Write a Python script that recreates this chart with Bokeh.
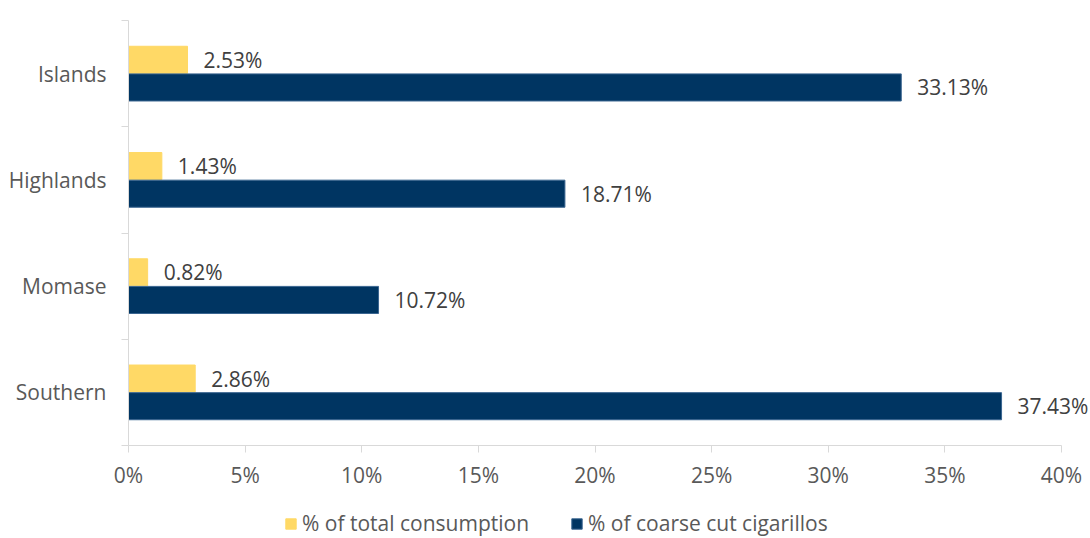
from bokeh.plotting import figure
from bokeh.models import FixedTicker, Range1d, ColumnDataSource, Legend, LegendItem
from bokeh.transform import dodge
from bokeh.core.properties import value
from bokeh.embed import file_html
from bokeh.resources import INLINE

categories = ["Southern", "Momase", "Highlands", "Islands"]
total_consumption = [2.86, 0.82, 1.43, 2.53]
coarse_cut = [37.43, 10.72, 18.71, 33.13]
series_names = ["% of total consumption", "% of coarse cut cigarillos"]
x_ticks = [0, 5, 10, 15, 20, 25, 30, 35, 40]
x_tick_labels = [f"{t}%" for t in x_ticks]

FONT = "Open Sans"
FS = "21px"
YELLOW = "#FFD966"
NAVY = "#003562"
AXIS_GREY = "#D9D9D9"
LABEL_GREY = "#595959"
DATA_GREY = "#404040"

centers = [i + 0.5 for i in range(len(categories))]
source = ColumnDataSource(dict(
    y=centers,
    total=total_consumption,
    coarse=coarse_cut,
    total_lbl=[f"{v:.2f}%" for v in total_consumption],
    coarse_lbl=[f"{v:.2f}%" for v in coarse_cut],
))

# plot area: 0..40% over 933px starting 128px from the left, categories over 425px
# starting 20px from the top; the frame covers the whole canvas so that no text is clipped
W, H = 1090, 538
left_px, axis_px = 128, 933
top_px, cat_px = 20, 425
xmax = x_ticks[-1]
ncat = len(categories)
x_lo = -xmax * left_px / axis_px
x_hi = xmax * (W - left_px) / axis_px
y_hi = ncat * (cat_px + top_px) / cat_px
y_lo = -ncat * (H - top_px - cat_px) / cat_px

p = figure(frame_width=W, frame_height=H, min_border=0,
           x_range=Range1d(x_lo, x_hi), y_range=Range1d(y_lo, y_hi),
           output_backend="svg", toolbar_location=None)
p.outline_line_color = None
p.xgrid.visible = False
p.ygrid.visible = False

bar_h = 0.255
off = 0.13
r1 = p.hbar(y=dodge("y", off, range=p.y_range), left=0, right="total", height=bar_h,
            source=source, fill_color=YELLOW, line_color=YELLOW)
r2 = p.hbar(y=dodge("y", -off, range=p.y_range), left=0, right="coarse", height=bar_h,
            source=source, fill_color=NAVY, line_color="#3A6590", line_width=1)

p.text(x="total", y=dodge("y", off, range=p.y_range), text="total_lbl", source=source,
       x_offset=16, text_baseline="middle", text_align="left",
       text_font=value(FONT), text_font_size=FS, text_color=DATA_GREY)
p.text(x="coarse", y=dodge("y", -off, range=p.y_range), text="coarse_lbl", source=source,
       x_offset=16, text_baseline="middle", text_align="left",
       text_font=value(FONT), text_font_size=FS, text_color=DATA_GREY)

# x axis, drawn at y = 0 inside the frame
xa = p.xaxis[0]
xa.fixed_location = 0
xa.ticker = FixedTicker(ticks=x_ticks, minor_ticks=[])
xa.bounds = (x_ticks[0], x_ticks[-1])
xa.major_label_overrides = {t: l for t, l in zip(x_ticks, x_tick_labels)}
xa.axis_line_color = AXIS_GREY
xa.major_tick_line_color = AXIS_GREY
xa.major_tick_out = 7
xa.major_tick_in = 0
xa.minor_tick_line_color = None
xa.major_label_standoff = 8
xa.major_label_text_font = FONT
xa.major_label_text_font_size = FS
xa.major_label_text_color = LABEL_GREY

# y axis, drawn at x = 0 inside the frame
ya = p.yaxis[0]
ya.fixed_location = 0
ya.ticker = FixedTicker(ticks=centers, minor_ticks=list(range(ncat + 1)))
ya.bounds = (0, ncat)
ya.major_label_overrides = {c: n for c, n in zip(centers, categories)}
ya.axis_line_color = AXIS_GREY
ya.major_tick_line_color = None
ya.major_tick_out = 0
ya.major_tick_in = 0
ya.minor_tick_line_color = AXIS_GREY
ya.minor_tick_out = 7
ya.minor_tick_in = 0
ya.major_label_standoff = 15
ya.major_label_text_font = FONT
ya.major_label_text_font_size = FS
ya.major_label_text_color = LABEL_GREY

legend = Legend(items=[LegendItem(label=series_names[0], renderers=[r1]),
                       LegendItem(label=series_names[1], renderers=[r2])],
                orientation="horizontal", location=(284, 1),
                glyph_width=13, glyph_height=13, label_standoff=5, spacing=41,
                padding=0, margin=0, border_line_color=None,
                background_fill_alpha=0,
                label_text_font=FONT, label_text_font_size=FS,
                label_text_color=LABEL_GREY, label_height=22)
p.add_layout(legend, "center")

open("out.html", "w").write(file_html(p, INLINE))
